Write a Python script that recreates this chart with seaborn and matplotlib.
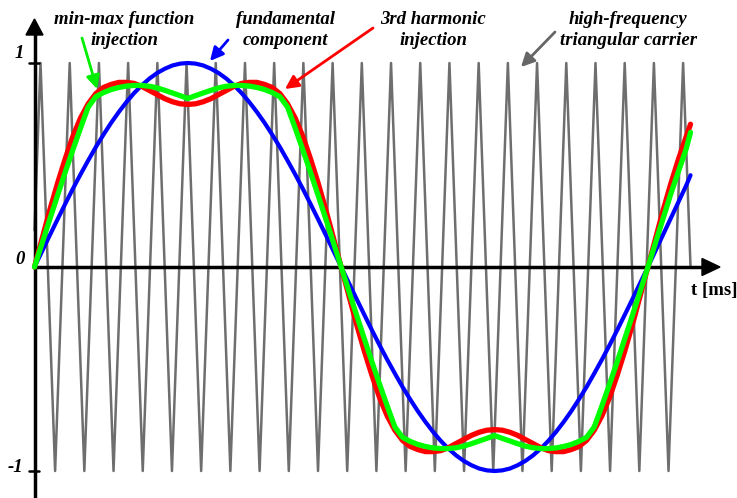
import matplotlib
matplotlib.use("Agg")
import matplotlib.pyplot as plt
from matplotlib.patches import Polygon
import pandas as pd
import seaborn as sns

# time axis in ms (fundamental period = 20 ms), read every 0.25 ms
t_curve = [0.0, 0.25, 0.5, 0.75, 1.0, 1.25, 1.5, 1.75, 2.0, 2.25, 2.5, 2.75, 3.0, 3.25, 3.5,
           3.75, 4.0, 4.25, 4.5, 4.75, 5.0, 5.25, 5.5, 5.75, 6.0, 6.25, 6.5, 6.75, 7.0, 7.25,
           7.5, 7.75, 8.0, 8.25, 8.5, 8.75, 9.0, 9.25, 9.5, 9.75, 10.0, 10.25, 10.5, 10.75,
           11.0, 11.25, 11.5, 11.75, 12.0, 12.25, 12.5, 12.75, 13.0, 13.25, 13.5, 13.75, 14.0,
           14.25, 14.5, 14.75, 15.0, 15.25, 15.5, 15.75, 16.0, 16.25, 16.5, 16.75, 17.0, 17.25,
           17.5, 17.75, 18.0, 18.25, 18.5, 18.75, 19.0, 19.25, 19.5, 19.75, 20.0, 20.25, 20.5,
           20.75, 21.0, 21.25, 21.39]

fundamental = [0.0, 0.078, 0.156, 0.233, 0.309, 0.383, 0.454, 0.522, 0.588, 0.649, 0.707,
               0.760, 0.809, 0.853, 0.891, 0.924, 0.951, 0.972, 0.988, 0.997, 1.0,
               0.997, 0.988, 0.972, 0.951, 0.924, 0.891, 0.853, 0.809, 0.760, 0.707, 0.649,
               0.588, 0.522, 0.454, 0.383, 0.309, 0.233, 0.156, 0.078, 0.0,
               -0.078, -0.156, -0.233, -0.309, -0.383, -0.454, -0.522, -0.588, -0.649, -0.707,
               -0.760, -0.809, -0.853, -0.891, -0.924, -0.951, -0.972, -0.988, -0.997, -1.0,
               -0.997, -0.988, -0.972, -0.951, -0.924, -0.891, -0.853, -0.809, -0.760, -0.707,
               -0.649, -0.588, -0.522, -0.454, -0.383, -0.309, -0.233, -0.156, -0.078, 0.0,
               0.08, 0.16, 0.24, 0.32, 0.40, 0.45]

third_harmonic = [0.0, 0.14, 0.28, 0.41, 0.53, 0.64, 0.73, 0.80, 0.85, 0.88, 0.895, 0.905,
                  0.905, 0.90, 0.885, 0.865, 0.845, 0.825, 0.81, 0.80, 0.797,
                  0.80, 0.81, 0.825, 0.845, 0.865, 0.885, 0.90, 0.905, 0.905, 0.895, 0.88,
                  0.85, 0.80, 0.73, 0.64, 0.53, 0.41, 0.28, 0.14, 0.0,
                  -0.14, -0.28, -0.41, -0.53, -0.64, -0.73, -0.80, -0.85, -0.88, -0.895, -0.905,
                  -0.905, -0.90, -0.885, -0.865, -0.845, -0.825, -0.81, -0.80, -0.797,
                  -0.80, -0.81, -0.825, -0.845, -0.865, -0.885, -0.90, -0.905, -0.905, -0.895,
                  -0.88, -0.85, -0.80, -0.73, -0.64, -0.53, -0.41, -0.28, -0.14, 0.0,
                  0.14, 0.28, 0.41, 0.53, 0.64, 0.70]

min_max = [0.0, 0.118, 0.235, 0.35, 0.464, 0.574, 0.681, 0.784, 0.835, 0.855, 0.87, 0.88,
           0.887, 0.89, 0.89, 0.886, 0.878, 0.866, 0.853, 0.84, 0.826,
           0.84, 0.853, 0.866, 0.878, 0.886, 0.89, 0.89, 0.887, 0.88, 0.87, 0.855, 0.835,
           0.784, 0.681, 0.574, 0.464, 0.35, 0.235, 0.118, 0.0,
           -0.118, -0.235, -0.35, -0.464, -0.574, -0.681, -0.784, -0.835, -0.855, -0.87, -0.88,
           -0.887, -0.89, -0.89, -0.886, -0.878, -0.866, -0.853, -0.84, -0.826,
           -0.84, -0.853, -0.866, -0.878, -0.886, -0.89, -0.89, -0.887, -0.88, -0.87, -0.855,
           -0.835, -0.784, -0.681, -0.574, -0.464, -0.35, -0.235, -0.118, 0.0,
           0.12, 0.24, 0.36, 0.47, 0.58, 0.66]

# triangular carrier vertices (ms)
carrier_tops = [0.196, 1.148, 2.101, 3.053, 4.006, 4.958, 5.910, 6.863, 7.815, 8.767, 9.720,
                10.672, 11.625, 12.577, 13.529, 14.482, 15.434, 16.386, 17.339, 18.291,
                19.244, 20.196, 21.148]
carrier_bottoms = [0.672, 1.625, 2.577, 3.529, 4.482, 5.434, 6.386, 7.339, 8.291, 9.244,
                   10.196, 11.148, 12.101, 13.053, 14.006, 14.958, 15.910, 16.863, 17.815,
                   18.767, 19.720, 20.672]
carrier_start = (0.0, 0.18)
carrier_end = (21.39, 0.0)

# pixel layout helpers (figure is 737 x 498 px, axes fill it)
W, H = 737, 498
X0, Y0 = 34.5, 267
PX_MS, PX_UNIT = 30.67, 204


def tx(x):
    return (x - X0) / PX_MS


def vy(y):
    return (Y0 - y) / PX_UNIT


sns.set_theme(style="white")
plt.rcParams["font.family"] = ["Liberation Serif", "DejaVu Serif"]

fig = plt.figure(figsize=(W / 100, H / 100), dpi=100)
ax = fig.add_axes([0, 0, 1, 1])
ax.set_xlim(tx(0), tx(W))
ax.set_ylim(vy(H), vy(0))
ax.set_axis_off()

# carrier
ct, cv = [carrier_start[0]], [carrier_start[1]]
for i, top in enumerate(carrier_tops):
    ct.append(top)
    cv.append(1.0)
    if i < len(carrier_bottoms):
        ct.append(carrier_bottoms[i])
        cv.append(-1.0)
ct.append(carrier_end[0])
cv.append(carrier_end[1])
carrier = pd.DataFrame({"t": ct, "v": cv})
sns.lineplot(data=carrier, x="t", y="v", ax=ax, sort=False, estimator=None,
             color="#6e6e6e", lw=1.8, zorder=1)

# axes with arrows
ax.plot([tx(33), tx(703)], [0, 0], color="black", lw=2.5, zorder=2, solid_capstyle="butt")
ax.plot([0, 0], [vy(H), vy(34)], color="black", lw=2.5, zorder=2, solid_capstyle="butt")
ax.add_patch(Polygon([(tx(702), vy(258.5)), (tx(720), vy(267)), (tx(702), vy(275.5))],
                     closed=True, color="black", zorder=2))
ax.add_patch(Polygon([(tx(26), vy(35)), (tx(34.5), vy(19)), (tx(43), vy(35))],
                     closed=True, color="black", zorder=2))
for yv in (1, -1):
    ax.plot([tx(29), tx(39)], [yv, yv], color="black", lw=1.8, zorder=2)

curves = pd.DataFrame({"t": t_curve, "fundamental": fundamental,
                       "third": third_harmonic, "minmax": min_max})
sns.lineplot(data=curves, x="t", y="fundamental", ax=ax, color="#0000ff", lw=3.0, zorder=3)
sns.lineplot(data=curves, x="t", y="third", ax=ax, color="#ff0000", lw=3.8, zorder=4)
sns.lineplot(data=curves, x="t", y="minmax", ax=ax, color="#00ff00", lw=3.8, zorder=5)

lab = dict(fontsize=13.5, fontweight="bold", fontstyle="italic", ha="center", va="center",
           linespacing=1.3, color="black")
ax.text(tx(19), vy(53), "1", **lab)
ax.text(tx(20), vy(259), "0", **lab)
ax.text(tx(15), vy(467), "-1", **lab)
ax.text(tx(714), vy(291), "t [ms]", fontsize=13.5, fontweight="bold", ha="center",
        va="center", color="black")

ax.text(tx(124), vy(30), "min-max function\ninjection", **lab)
ax.text(tx(285), vy(30), "fundamental\ncomponent", **lab)
ax.text(tx(433), vy(30), "3rd harmonic\ninjection", **lab)
ax.text(tx(628), vy(30), "high-frequency\ntriangular carrier", **lab)

arrows = [((82, 38), (97, 89), "#00ee00"),
          ((228, 40), (210, 61), "#0000ff"),
          ((373, 28), (285, 89), "#ff0000"),
          ((555, 32), (521, 67), "#666666")]
for (x1, y1), (x2, y2), col in arrows:
    ax.annotate("", xy=(tx(x2), vy(y2)), xytext=(tx(x1), vy(y1)),
                arrowprops=dict(arrowstyle="-|>", color=col, lw=2.0, mutation_scale=20,
                                shrinkA=0, shrinkB=0), zorder=6)

fig.savefig("out.png", dpi=100)
